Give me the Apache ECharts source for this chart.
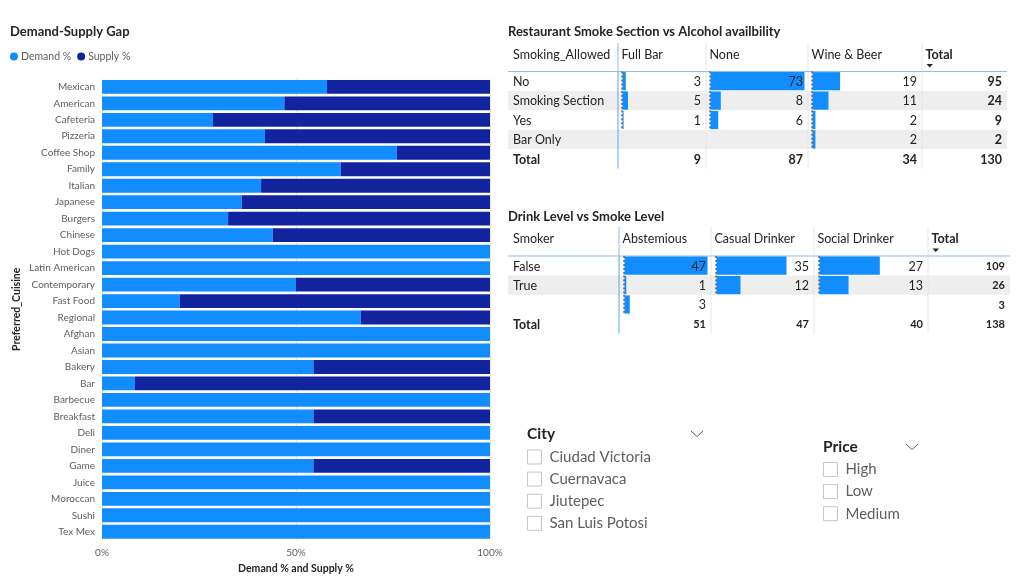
<!DOCTYPE html>
<html lang="en">
<head>
    <meta charset="UTF-8">
    <title>Restaurant Dashboard</title>
    <script src="https://cdn.jsdelivr.net/npm/echarts@6/dist/echarts.min.js"></script>
    <style>
        html, body { margin: 0; padding: 0; background: #fff; }
        #main { width: 1034px; height: 580px; }
    </style>
</head>
<body>
    <div id="main"></div>
    <script>
        // ---------- data ----------
        var cuisines = ['Mexican', 'American', 'Cafeteria', 'Pizzeria', 'Coffee Shop', 'Family', 'Italian', 'Japanese',
            'Burgers', 'Chinese', 'Hot Dogs', 'Latin American', 'Contemporary', 'Fast Food', 'Regional', 'Afghan',
            'Asian', 'Bakery', 'Bar', 'Barbecue', 'Breakfast', 'Deli', 'Diner', 'Game', 'Juice', 'Moroccan', 'Sushi', 'Tex Mex'];
        var demandPct = [58, 47, 28.6, 42, 76, 61.5, 41, 36, 32.5, 44, 100, 100, 50, 20, 66.7, 100,
            100, 54.5, 8.5, 100, 54.5, 100, 100, 54.5, 100, 100, 100, 100];
        var supplyPct = [42, 53, 71.4, 58, 24, 38.5, 59, 64, 67.5, 56, 0, 0, 50, 80, 33.3, 0,
            0, 45.5, 91.5, 0, 45.5, 0, 0, 45.5, 0, 0, 0, 0];
        var pctTicks = [0, 50, 100];

        // Restaurant Smoke Section vs Alcohol availbility
        var t1Rows = ['No', 'Smoking Section', 'Yes', 'Bar Only'];
        var t1Cols = ['Full Bar', 'None', 'Wine & Beer'];
        var t1FullBar = [3, 5, 1, null];
        var t1None = [73, 8, 6, null];
        var t1WineBeer = [19, 11, 2, 2];
        var t1RowTotals = [95, 24, 9, 2];
        var t1ColTotals = [9, 87, 34];
        var t1Grand = 130;

        // Drink Level vs Smoke Level
        var t2Rows = ['False', 'True', ''];
        var t2Cols = ['Abstemious', 'Casual Drinker', 'Social Drinker'];
        var t2Abstemious = [47, 1, 3];
        var t2Casual = [35, 12, null];
        var t2Social = [27, 13, null];
        var t2RowTotals = [109, 26, 3];
        var t2ColTotals = [51, 47, 40];
        var t2Grand = 138;

        var cities = ['Ciudad Victoria', 'Cuernavaca', 'Jiutepec', 'San Luis Potosi'];
        var prices = ['High', 'Low', 'Medium'];

        // ---------- look ----------
        var FONT = "'Segoe UI', Lato, sans-serif";
        var DARK = '#252423';
        var GREY = '#605e5c';
        var BLUE = '#118dff';
        var NAVY = '#12239e';

        var myChart = echarts.init(document.getElementById('main'));

        var grids = [{ left: 102, top: 78.6, width: 388, height: 461.4 }];
        var xAxes = [{
            type: 'value', gridIndex: 0, min: 0, max: 100, interval: 50,
            axisLine: { show: false }, axisTick: { show: false },
            axisLabel: {
                color: GREY, fontSize: 10, fontFamily: FONT, margin: 8,
                formatter: function (v) { return pctTicks.indexOf(v) >= 0 ? v + '%' : ''; }
            },
            splitLine: { lineStyle: { color: '#eaeaea', width: 1 } },
            name: 'Demand % and Supply %', nameLocation: 'middle', nameGap: 22,
            nameTextStyle: { color: DARK, fontSize: 10.5, fontFamily: FONT, fontWeight: 'bold' }
        }];
        var yAxes = [{
            type: 'category', gridIndex: 0, inverse: true, data: cuisines,
            axisLine: { show: false }, axisTick: { show: false },
            axisLabel: { color: GREY, fontSize: 10, fontFamily: FONT, margin: 7 },
            name: 'Preferred_Cuisine', nameLocation: 'middle', nameGap: 80,
            nameTextStyle: { color: DARK, fontSize: 10.5, fontFamily: FONT, fontWeight: 'bold' }
        }];
        var series = [
            { name: 'Demand %', type: 'bar', stack: 'gap', xAxisIndex: 0, yAxisIndex: 0, barCategoryGap: '16%', itemStyle: { color: BLUE }, data: demandPct },
            { name: 'Supply %', type: 'bar', stack: 'gap', xAxisIndex: 0, yAxisIndex: 0, barCategoryGap: '16%', itemStyle: { color: NAVY }, data: supplyPct }
        ];
        var graphics = [];

        // data bar + dotted zero line for one matrix cell
        function cellBar(params, api) {
            var v = api.value(1);
            if (v == null || isNaN(v)) return;
            var r = api.value(0);
            var start = api.coord([0, r]);
            var end = api.coord([v, r]);
            var band = api.size([0, 1])[1];
            return {
                type: 'group', children: [
                    { type: 'rect', shape: { x: start[0] + 0.5, y: start[1] - band / 2 + 0.6, width: end[0] - start[0], height: band - 1.2 }, style: { fill: BLUE } },
                    { type: 'line', shape: { x1: start[0], y1: start[1] - band / 2, x2: start[0], y2: start[1] + band / 2 }, style: { stroke: DARK, lineWidth: 1, lineDash: [2, 2] } }
                ]
            };
        }

        function txt(x, y, s, size, opts) {
            opts = opts || {};
            graphics.push({
                type: 'text', x: x, y: y, silent: true, z: 100,
                style: {
                    text: s, fill: opts.fill || DARK, fontSize: size, fontFamily: FONT,
                    fontWeight: opts.bold ? 'bold' : 'normal',
                    textAlign: opts.align || 'left', textVerticalAlign: 'middle'
                }
            });
        }

        // matrix visual: columns of values drawn as data bars in their own grid
        function buildMatrix(t) {
            var nRows = t.rows.length;
            var barMax = Math.max.apply(null, t.cols.map(function (c) {
                return Math.max.apply(null, c.filter(function (v) { return v != null; }));
            }));
            var bottom = t.rowTop + (nRows + 1) * t.rowH;
            var right = t.seps[t.seps.length - 1];

            // shaded alternate rows
            for (var i = 1; i < nRows; i += 2) {
                graphics.push({ type: 'rect', silent: true, z: -10, shape: { x: 508, y: t.rowTop + i * t.rowH, width: right - 508, height: t.rowH }, style: { fill: '#eeeeee' } });
            }
            // column separators
            t.seps.slice(0, -1).forEach(function (sx, k) {
                graphics.push({ type: 'line', silent: true, z: -5, shape: { x1: sx, y1: t.headTop, x2: sx, y2: bottom }, style: { stroke: k === 0 ? '#5aa6ef' : '#e6e6e6', lineWidth: 1 } });
            });
            graphics.push({ type: 'line', silent: true, z: -5, shape: { x1: t.seps[0], y1: t.headTop, x2: t.seps[0], y2: t.rowTop }, style: { stroke: '#e6e6e6', lineWidth: 1 } });
            graphics.push({ type: 'line', silent: true, z: -5, shape: { x1: 508, y1: t.rowTop, x2: right, y2: t.rowTop }, style: { stroke: '#8fbdee', lineWidth: 1 } });

            // header
            var headY = (t.headTop + t.rowTop) / 2 - 2.5;
            txt(513, headY, t.corner, 12.5);
            t.colNames.forEach(function (name, c) { txt(t.seps[c] + 3.5, headY, name, 12.5); });
            txt(t.seps[t.cols.length] + 3.5, headY, 'Total', 12.5, { bold: true });
            var ax = t.seps[t.cols.length] + 4.5;
            graphics.push({ type: 'polygon', silent: true, z: 100, shape: { points: [[ax, t.rowTop - 7.5], [ax + 6.5, t.rowTop - 7.5], [ax + 3.25, t.rowTop - 4]] }, style: { fill: DARK } });

            // body
            t.rows.forEach(function (name, r) {
                var y = t.rowTop + (r + 0.5) * t.rowH + 0.8;
                txt(513, y, name, 12.5);
                t.cols.forEach(function (col, c) {
                    if (col[r] != null) txt(t.seps[c + 1] - 5, y, String(col[r]), 12.5, { align: 'right' });
                });
                txt(right - 5, y, String(t.rowTotals[r]), t.totalSize, { align: 'right', bold: true });
            });
            var ty = t.rowTop + (nRows + 0.5) * t.rowH + 0.8;
            txt(513, ty, 'Total', 12.5, { bold: true });
            t.colTotals.forEach(function (v, c) { txt(t.seps[c + 1] - 5, ty, String(v), t.totalSize, { align: 'right', bold: true }); });
            txt(right - 5, ty, String(t.grand), t.totalSize, { align: 'right', bold: true });

            // data bars
            t.cols.forEach(function (col, c) {
                var gi = grids.length;
                grids.push({ left: t.seps[c] + t.pad, width: t.seps[c + 1] - t.seps[c] - t.pad - 4, top: t.rowTop, height: nRows * t.rowH });
                xAxes.push({ type: 'value', gridIndex: gi, min: 0, max: barMax, show: false });
                yAxes.push({ type: 'category', gridIndex: gi, inverse: true, data: t.rows.map(function (s, k) { return k; }), show: false });
                series.push({
                    type: 'custom', xAxisIndex: gi, yAxisIndex: gi, renderItem: cellBar, z: 2,
                    encode: { x: 1, y: 0 },
                    data: col.map(function (v, k) { return [k, v == null ? NaN : v]; })
                });
            });
        }

        buildMatrix({
            corner: 'Smoking_Allowed', rows: t1Rows, colNames: t1Cols,
            cols: [t1FullBar, t1None, t1WineBeer], rowTotals: t1RowTotals, colTotals: t1ColTotals, grand: t1Grand,
            seps: [618, 706, 808, 922, 1007], headTop: 43, rowTop: 71.5, rowH: 19.4, pad: 4, totalSize: 12.5
        });
        buildMatrix({
            corner: 'Smoker', rows: t2Rows, colNames: t2Cols,
            cols: [t2Abstemious, t2Casual, t2Social], rowTotals: t2RowTotals, colTotals: t2ColTotals, grand: t2Grand,
            seps: [619, 711, 814, 928, 1010], headTop: 227, rowTop: 256, rowH: 19.4, pad: 5, totalSize: 11
        });

        // slicers
        function buildSlicer(x, titleY, title, items, itemY0, chevX) {
            txt(x, titleY, title, 15.5, { bold: true });
            graphics.push({ type: 'polyline', silent: true, shape: { points: [[chevX, titleY - 2.5], [chevX + 6, titleY + 3], [chevX + 12, titleY - 2.5]] }, style: { stroke: GREY, lineWidth: 1, fill: null } });
            items.forEach(function (s, i) {
                var y = itemY0 + i * 22.1;
                graphics.push({ type: 'rect', silent: true, shape: { x: x + 0.5, y: y - 7, width: 14, height: 14 }, style: { fill: '#fff', stroke: '#c8c6c4', lineWidth: 1 } });
                txt(x + 22.5, y, s, 15, { fill: GREY });
            });
        }
        buildSlicer(527, 433.5, 'City', cities, 457, 691);
        buildSlicer(823, 446.5, 'Price', prices, 469.5, 906);

        var titleText = { color: DARK, fontSize: 13, fontWeight: 'bold', fontFamily: FONT };
        var option = {
            backgroundColor: '#fff',
            animation: false,
            title: [
                { text: 'Demand-Supply Gap', left: 10, top: 25, padding: 0, textStyle: titleText },
                { text: 'Restaurant Smoke Section vs Alcohol availbility', left: 508, top: 25, padding: 0, textStyle: titleText },
                { text: 'Drink Level vs Smoke Level', left: 508, top: 210, padding: 0, textStyle: titleText }
            ],
            legend: {
                left: 10, top: 51, padding: 0, icon: 'circle', itemWidth: 8, itemHeight: 8, itemGap: 6,
                textStyle: { color: GREY, fontSize: 10.5, fontFamily: FONT, padding: [0, 0, 0, -2] },
                data: ['Demand %', 'Supply %']
            },
            grid: grids,
            xAxis: xAxes,
            yAxis: yAxes,
            series: series,
            graphic: graphics
        };

        myChart.setOption(option);
        window.addEventListener('resize', function () {
            myChart.resize();
        });
    </script>
</body>
</html>
